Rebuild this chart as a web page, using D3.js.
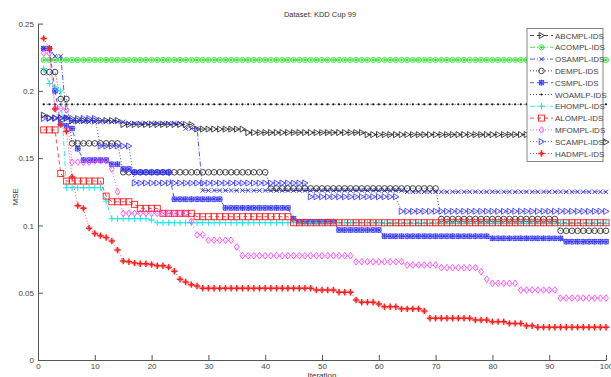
<!DOCTYPE html>
<html>
<head>
<meta charset="utf-8">
<script src="https://cdn.jsdelivr.net/npm/d3@7"></script>
<style>
html,body{margin:0;padding:0;background:#fff;}
svg{display:block;font-family:"Liberation Sans",Arial,sans-serif;}
</style>
</head>
<body>
<svg id="chart" width="611" height="377"></svg>
<script>
// ---------- data ----------
const title = "Dataset: KDD Cup 99";
const xLabel = "Iteration";
const yLabel = "MSE";
const xTicks = [0,10,20,30,40,50,60,70,80,90,100];
const yTicks = [0,0.05,0.1,0.15,0.2,0.25];
const yTickLabels = ["0","0.05","0.1","0.15","0.2","0.25"];
const iterations = d3.range(1,101);

const seriesNames = ["ABCMPL-IDS","ACOMPL-IDS","OSAMPL-IDS","DEMPL-IDS","CSMPL-IDS","WOAMLP-IDS","EHOMPL-IDS","ALOMPL-IDS","MFOMPL-IDS","SCAMPL-IDS","HADMPL-IDS"];

const abc = [
0.182,0.180,0.180,0.180,0.180,0.178,0.178,0.178,0.178,0.178,
0.178,0.178,0.178,0.178,0.175,0.175,0.175,0.175,0.175,0.175,
0.175,0.175,0.175,0.175,0.175,0.175,0.175,0.1716,0.1716,0.1716,
0.1716,0.1716,0.1716,0.1716,0.1716,0.1716,0.169,0.169,0.169,0.169,
0.169,0.169,0.169,0.169,0.169,0.169,0.169,0.169,0.169,0.169,
0.169,0.169,0.169,0.169,0.169,0.169,0.169,0.1675,0.1675,0.1675,
0.1675,0.1675,0.1675,0.1675,0.1675,0.1675,0.1675,0.1675,0.1675,0.1675,
0.1675,0.1675,0.1675,0.1675,0.1675,0.1675,0.1675,0.1675,0.1675,0.1675,
0.1675,0.1675,0.1675,0.1675,0.1675,0.1675,0.1675,0.1675,0.1675,0.1675,
0.1675,0.1675,0.1675,0.1675,0.1675,0.1675,0.1675,0.1675,0.1675,0.162];

const aco = [
0.223,0.223,0.223,0.223,0.223,0.223,0.223,0.223,0.223,0.223,
0.223,0.223,0.223,0.223,0.223,0.223,0.223,0.223,0.223,0.223,
0.223,0.223,0.223,0.223,0.223,0.223,0.223,0.223,0.223,0.223,
0.223,0.223,0.223,0.223,0.223,0.223,0.223,0.223,0.223,0.223,
0.223,0.223,0.223,0.223,0.223,0.223,0.223,0.223,0.223,0.223,
0.223,0.223,0.223,0.223,0.223,0.223,0.223,0.223,0.223,0.223,
0.223,0.223,0.223,0.223,0.223,0.223,0.223,0.223,0.223,0.223,
0.223,0.223,0.223,0.223,0.223,0.223,0.223,0.223,0.223,0.223,
0.223,0.223,0.223,0.223,0.223,0.223,0.223,0.223,0.223,0.223,
0.223,0.223,0.223,0.223,0.223,0.223,0.223,0.223,0.223,0.223];

const osa = [
0.2315,0.2315,0.2258,0.2258,0.180,0.177,0.177,0.177,0.177,0.177,
0.177,0.177,0.177,0.177,0.177,0.176,0.176,0.176,0.176,0.176,
0.176,0.176,0.176,0.176,0.176,0.172,0.172,0.172,0.126,0.126,
0.126,0.126,0.126,0.126,0.126,0.126,0.126,0.126,0.126,0.126,
0.126,0.126,0.126,0.126,0.126,0.126,0.126,0.126,0.126,0.126,
0.126,0.126,0.126,0.126,0.126,0.126,0.126,0.126,0.126,0.126,
0.126,0.126,0.126,0.126,0.125,0.125,0.125,0.125,0.125,0.125,
0.125,0.125,0.125,0.125,0.125,0.125,0.125,0.125,0.125,0.125,
0.125,0.125,0.125,0.125,0.125,0.125,0.125,0.125,0.125,0.125,
0.125,0.125,0.125,0.125,0.125,0.125,0.125,0.125,0.125,0.125];

const dem = [
0.214,0.214,0.214,0.194,0.194,0.161,0.161,0.161,0.161,0.161,
0.161,0.161,0.161,0.161,0.1395,0.1395,0.1395,0.1395,0.1395,0.1395,
0.1395,0.1395,0.1395,0.1395,0.1395,0.1395,0.1395,0.1395,0.1395,0.1395,
0.1395,0.1395,0.1395,0.1395,0.1395,0.1395,0.1395,0.1395,0.1395,0.1395,
0.1275,0.1275,0.1275,0.1275,0.1275,0.1275,0.1275,0.1275,0.1275,0.1275,
0.1275,0.1275,0.1275,0.1275,0.1275,0.1275,0.1275,0.1275,0.1275,0.1275,
0.1275,0.1275,0.1275,0.1275,0.1275,0.1275,0.1275,0.1275,0.1275,0.1275,
0.1048,0.1048,0.1048,0.1048,0.1048,0.1048,0.1048,0.1048,0.1048,0.1048,
0.1048,0.1048,0.1048,0.1048,0.1048,0.1048,0.1048,0.1048,0.1048,0.1048,
0.1048,0.096,0.096,0.096,0.096,0.096,0.096,0.096,0.096,0.096];

const csm = [
0.2315,0.2315,0.200,0.1755,0.174,0.172,0.157,0.1486,0.1486,0.1486,
0.1486,0.1486,0.1455,0.1455,0.142,0.142,0.1395,0.1395,0.1395,0.1395,
0.1395,0.1395,0.1395,0.1195,0.1195,0.1195,0.1195,0.1195,0.1195,0.1195,
0.1195,0.1195,0.113,0.113,0.113,0.113,0.113,0.113,0.113,0.113,
0.113,0.113,0.113,0.113,0.105,0.1028,0.1028,0.1028,0.1028,0.1028,
0.1028,0.1028,0.0966,0.0966,0.0966,0.0966,0.0966,0.0966,0.0966,0.0966,
0.092,0.092,0.092,0.092,0.092,0.092,0.092,0.092,0.092,0.092,
0.092,0.092,0.092,0.092,0.092,0.092,0.092,0.092,0.092,0.0904,
0.0904,0.0904,0.0904,0.0904,0.0904,0.0904,0.0904,0.0904,0.0904,0.0904,
0.0904,0.0904,0.0879,0.0879,0.0879,0.0879,0.0879,0.0879,0.0879,0.0879];

const woa = [
0.19,0.19,0.19,0.19,0.19,0.19,0.19,0.19,0.19,0.19,
0.19,0.19,0.19,0.19,0.19,0.19,0.19,0.19,0.19,0.19,
0.19,0.19,0.19,0.19,0.19,0.19,0.19,0.19,0.19,0.19,
0.19,0.19,0.19,0.19,0.19,0.19,0.19,0.19,0.19,0.19,
0.19,0.19,0.19,0.19,0.19,0.19,0.19,0.19,0.19,0.19,
0.19,0.19,0.19,0.19,0.19,0.19,0.19,0.19,0.19,0.19,
0.19,0.19,0.19,0.19,0.19,0.19,0.19,0.19,0.19,0.19,
0.19,0.19,0.19,0.19,0.19,0.19,0.19,0.19,0.19,0.19,
0.19,0.19,0.19,0.19,0.19,0.19,0.19,0.19,0.19,0.19,
0.19,0.19,0.19,0.19,0.19,0.19,0.19,0.19,0.19,0.19];

const eho = [
0.2167,0.2055,0.203,0.200,0.128,0.128,0.128,0.128,0.128,0.128,
0.128,0.118,0.105,0.105,0.105,0.105,0.105,0.105,0.105,0.104,
0.102,0.102,0.102,0.102,0.102,0.102,0.102,0.102,0.102,0.102,
0.102,0.102,0.102,0.102,0.102,0.102,0.102,0.102,0.102,0.102,
0.102,0.102,0.102,0.102,0.102,0.102,0.102,0.102,0.102,0.102,
0.102,0.102,0.102,0.102,0.102,0.102,0.102,0.102,0.102,0.102,
0.1015,0.1015,0.1015,0.1015,0.1015,0.1015,0.1015,0.1015,0.1015,0.1015,
0.1015,0.1015,0.1015,0.1015,0.1015,0.1015,0.1015,0.1015,0.1015,0.1015,
0.1015,0.1015,0.1015,0.1015,0.1015,0.1015,0.1015,0.1015,0.1015,0.1015,
0.1015,0.1015,0.1015,0.1015,0.1015,0.1015,0.1015,0.1015,0.1015,0.1015];

const alo = [
0.171,0.171,0.171,0.1386,0.133,0.133,0.133,0.133,0.133,0.133,
0.133,0.1218,0.1176,0.1176,0.1176,0.1176,0.1157,0.1127,0.1127,0.1127,
0.1127,0.109,0.109,0.109,0.109,0.109,0.109,0.1065,0.1065,0.1065,
0.1065,0.1065,0.1065,0.1065,0.1065,0.1065,0.1065,0.1065,0.1065,0.1065,
0.1065,0.1065,0.1065,0.1065,0.102,0.102,0.102,0.102,0.102,0.102,
0.102,0.102,0.102,0.102,0.102,0.102,0.102,0.102,0.102,0.102,
0.102,0.102,0.102,0.102,0.102,0.102,0.102,0.102,0.102,0.102,
0.102,0.102,0.102,0.102,0.102,0.102,0.102,0.102,0.102,0.102,
0.102,0.102,0.102,0.102,0.102,0.102,0.102,0.102,0.102,0.102,
0.102,0.102,0.102,0.102,0.102,0.102,0.102,0.102,0.102,0.102];

const mfo = [
0.228,0.228,0.187,0.187,0.186,0.147,0.147,0.147,0.147,0.148,
0.148,0.148,0.142,0.125,0.109,0.109,0.109,0.109,0.109,0.109,
0.109,0.109,0.109,0.109,0.109,0.109,0.103,0.093,0.093,0.089,
0.089,0.089,0.089,0.089,0.084,0.0775,0.0775,0.0775,0.0775,0.0775,
0.0775,0.0775,0.0775,0.0775,0.0775,0.0775,0.0775,0.0775,0.0775,0.0775,
0.0775,0.0775,0.0775,0.0775,0.0775,0.073,0.073,0.073,0.073,0.073,
0.073,0.073,0.073,0.073,0.0706,0.0706,0.0706,0.0706,0.0706,0.0706,
0.0686,0.0686,0.0686,0.0686,0.0686,0.0686,0.0686,0.0656,0.060,0.057,
0.057,0.057,0.057,0.057,0.052,0.052,0.052,0.052,0.052,0.052,
0.052,0.046,0.046,0.046,0.046,0.046,0.046,0.046,0.046,0.046];

const sca = [
0.1795,0.1795,0.1795,0.1795,0.1795,0.1795,0.1795,0.1795,0.1795,0.1795,
0.159,0.159,0.159,0.159,0.159,0.159,0.1315,0.1315,0.1315,0.1315,
0.1315,0.1315,0.1315,0.1315,0.1315,0.1315,0.1315,0.1315,0.1315,0.1315,
0.1315,0.1315,0.1315,0.1315,0.1315,0.1315,0.1315,0.1315,0.1315,0.1315,
0.1315,0.1315,0.1315,0.1315,0.1315,0.1315,0.1315,0.1213,0.1213,0.1213,
0.1213,0.1213,0.1213,0.1213,0.1213,0.1213,0.1213,0.1213,0.1213,0.1213,
0.1213,0.1213,0.1213,0.1105,0.1105,0.1105,0.1105,0.1105,0.1105,0.1105,
0.1105,0.1105,0.1105,0.1105,0.1105,0.1105,0.1105,0.1105,0.1105,0.1105,
0.1105,0.1105,0.1105,0.1105,0.1105,0.1105,0.1105,0.1105,0.1105,0.1105,
0.1105,0.1105,0.1105,0.1105,0.1105,0.1105,0.1105,0.1105,0.1105,0.1105];

const had = [
0.239,0.2315,0.1865,0.175,0.170,0.136,0.1147,0.1127,0.098,0.094,
0.0924,0.091,0.0884,0.0817,0.0735,0.073,0.072,0.0715,0.0715,0.071,
0.070,0.070,0.069,0.066,0.060,0.058,0.056,0.055,0.0533,0.0533,
0.0533,0.0533,0.0533,0.0533,0.0533,0.0533,0.0533,0.0533,0.0533,0.0533,
0.0533,0.0533,0.0533,0.0533,0.0533,0.0533,0.0533,0.0533,0.052,0.052,
0.052,0.052,0.0503,0.0503,0.0503,0.0446,0.0429,0.0429,0.0429,0.0416,
0.0396,0.0396,0.0396,0.038,0.038,0.038,0.038,0.0364,0.031,0.031,
0.031,0.031,0.031,0.031,0.031,0.031,0.0297,0.0297,0.0297,0.0285,
0.0285,0.0285,0.0272,0.0272,0.0272,0.0255,0.0255,0.0243,0.0243,0.0243,
0.0243,0.0243,0.0243,0.0243,0.0243,0.0243,0.0243,0.0243,0.0243,0.0243];

const seriesValues = [abc,aco,osa,dem,csm,woa,eho,alo,mfo,sca,had];

// ---------- styles ----------
const BLUE="#2a2aff", BLACK="#1a1a1a", GREEN="#22dd22", CYAN="#00e6e6", RED="#ff2020", MAG="#ff33ff";
const DASH="4,3", DOT="1,2", DASHDOT="5,2,1,2";
const styles = [
  {color:BLACK, dash:DASH,    marker:"tri"},
  {color:GREEN, dash:DASHDOT, marker:"circstar"},
  {color:BLUE,  dash:DASHDOT, marker:"x"},
  {color:BLACK, dash:DOT,     marker:"circle"},
  {color:BLUE,  dash:DASH,    marker:"sqstar"},
  {color:BLACK, dash:DOT,     marker:"dot"},
  {color:CYAN,  dash:DASHDOT, marker:"plus"},
  {color:RED,   dash:DASH,    marker:"square"},
  {color:MAG,   dash:DOT,     marker:"diamond"},
  {color:BLUE,  dash:DOT,     marker:"tri"},
  {color:RED,   dash:DOT,     marker:"boldplus"}
];

// ---------- layout ----------
const svg = d3.select("#chart");
const L=38, R=606, T=23.6, B=360;
const x = d3.scaleLinear().domain([0,100]).range([L,R]);
const y = d3.scaleLinear().domain([0,0.25]).range([B,T]);
const axisColor="#555", textColor="#444";

// axes
const gx = svg.append("g").attr("transform",`translate(0,${B})`)
  .call(d3.axisBottom(x).tickValues(xTicks).tickSizeInner(-5).tickSizeOuter(0).tickPadding(3));
const gy = svg.append("g").attr("transform",`translate(${L},0)`)
  .call(d3.axisLeft(y).tickValues(yTicks).tickFormat((d,i)=>yTickLabels[i]).tickSizeInner(-5).tickSizeOuter(0).tickPadding(4));
[gx,gy].forEach(g=>{
  g.select(".domain").attr("stroke",axisColor).attr("stroke-width",1);
  g.selectAll(".tick line").attr("stroke",axisColor);
  g.selectAll(".tick text").attr("fill",textColor).attr("font-size","8px").attr("font-family","Liberation Sans, Arial, sans-serif");
});
gy.selectAll(".tick text").attr("dy","0.32em");

// labels
svg.append("text").attr("x",320).attr("y",17).attr("text-anchor","middle")
  .attr("font-size","7.5px").attr("fill","#333").text(title);
svg.append("text").attr("x",x(50)).attr("y",378).attr("text-anchor","middle")
  .attr("font-size","8px").attr("fill","#333").text(xLabel);
svg.append("text").attr("transform",`translate(18,${(T+B)/2+5}) rotate(-90)`).attr("text-anchor","middle")
  .attr("font-size","8px").attr("fill","#333").text(yLabel);

// marker drawing
function drawMarker(g, type, color){
  const s = g.append("g");
  switch(type){
    case "tri":
      s.append("path").attr("d","M-2.3,-3L3,0L-2.3,3Z").attr("fill","none").attr("stroke",color).attr("stroke-width",0.8); break;
    case "circle":
      s.append("circle").attr("r",2.8).attr("fill","none").attr("stroke",color).attr("stroke-width",0.8); break;
    case "circstar":
      s.append("circle").attr("r",2.6).attr("fill","none").attr("stroke",color).attr("stroke-width",0.8);
      s.append("path").attr("d","M-1.6,0H1.6M0,-1.6V1.6M-1.1,-1.1L1.1,1.1M-1.1,1.1L1.1,-1.1").attr("stroke",color).attr("stroke-width",0.7); break;
    case "x":
      s.append("path").attr("d","M-2.2,-2.2L2.2,2.2M-2.2,2.2L2.2,-2.2").attr("stroke",color).attr("stroke-width",0.9); break;
    case "sqstar":
      s.append("rect").attr("x",-2.2).attr("y",-2.2).attr("width",4.4).attr("height",4.4).attr("fill","none").attr("stroke",color).attr("stroke-width",0.7);
      s.append("path").attr("d","M-3,0H3M0,-3V3M-2.2,-2.2L2.2,2.2M-2.2,2.2L2.2,-2.2").attr("stroke",color).attr("stroke-width",0.8); break;
    case "dot":
      s.append("circle").attr("r",1.1).attr("fill",color); break;
    case "plus":
      s.append("path").attr("d","M-3.2,0H3.2M0,-3.2V3.2").attr("stroke",color).attr("stroke-width",0.9); break;
    case "boldplus":
      s.append("path").attr("d","M-3.2,0H3.2M0,-3.2V3.2").attr("stroke",color).attr("stroke-width",1.5);
      s.append("path").attr("d","M-1.8,-1.8L1.8,1.8M-1.8,1.8L1.8,-1.8").attr("stroke",color).attr("stroke-width",0.7); break;
    case "square":
      s.append("rect").attr("x",-3).attr("y",-3).attr("width",6).attr("height",6).attr("fill","none").attr("stroke",color).attr("stroke-width",0.9); break;
    case "diamond":
      s.append("path").attr("d","M0,-3.3L2.4,0L0,3.3L-2.4,0Z").attr("fill","none").attr("stroke",color).attr("stroke-width",0.8); break;
  }
  return s;
}

// series
const line = d3.line().x((d,i)=>x(iterations[i])).y(d=>y(d));
const plot = svg.append("g");
seriesValues.forEach((vals,k)=>{
  const st = styles[k];
  const g = plot.append("g");
  g.append("path").datum(vals).attr("d",line).attr("fill","none")
    .attr("stroke",st.color).attr("stroke-width",0.8).attr("stroke-dasharray",st.dash);
  vals.forEach((v,i)=>{
    const m = drawMarker(g, st.marker, st.color);
    m.attr("transform",`translate(${x(iterations[i])},${y(v)})`);
  });
});

// legend
const lg = svg.append("g");
const lx=527, ly=28.5, lw=76, lh=133;
lg.append("rect").attr("x",lx).attr("y",ly).attr("width",lw).attr("height",lh)
  .attr("fill","#fff").attr("stroke","#666").attr("stroke-width",0.8);
seriesNames.forEach((name,k)=>{
  const st = styles[k];
  const yy = ly+7+k*11.8;
  lg.append("line").attr("x1",lx+3).attr("x2",lx+26).attr("y1",yy).attr("y2",yy)
    .attr("stroke",st.color).attr("stroke-width",0.8).attr("stroke-dasharray",st.dash);
  drawMarker(lg, st.marker, st.color).attr("transform",`translate(${lx+14.5},${yy})`);
  lg.append("text").attr("x",lx+28).attr("y",yy+3).attr("font-size","8px").attr("fill","#444").text(name);
});
</script>
</body>
</html>
